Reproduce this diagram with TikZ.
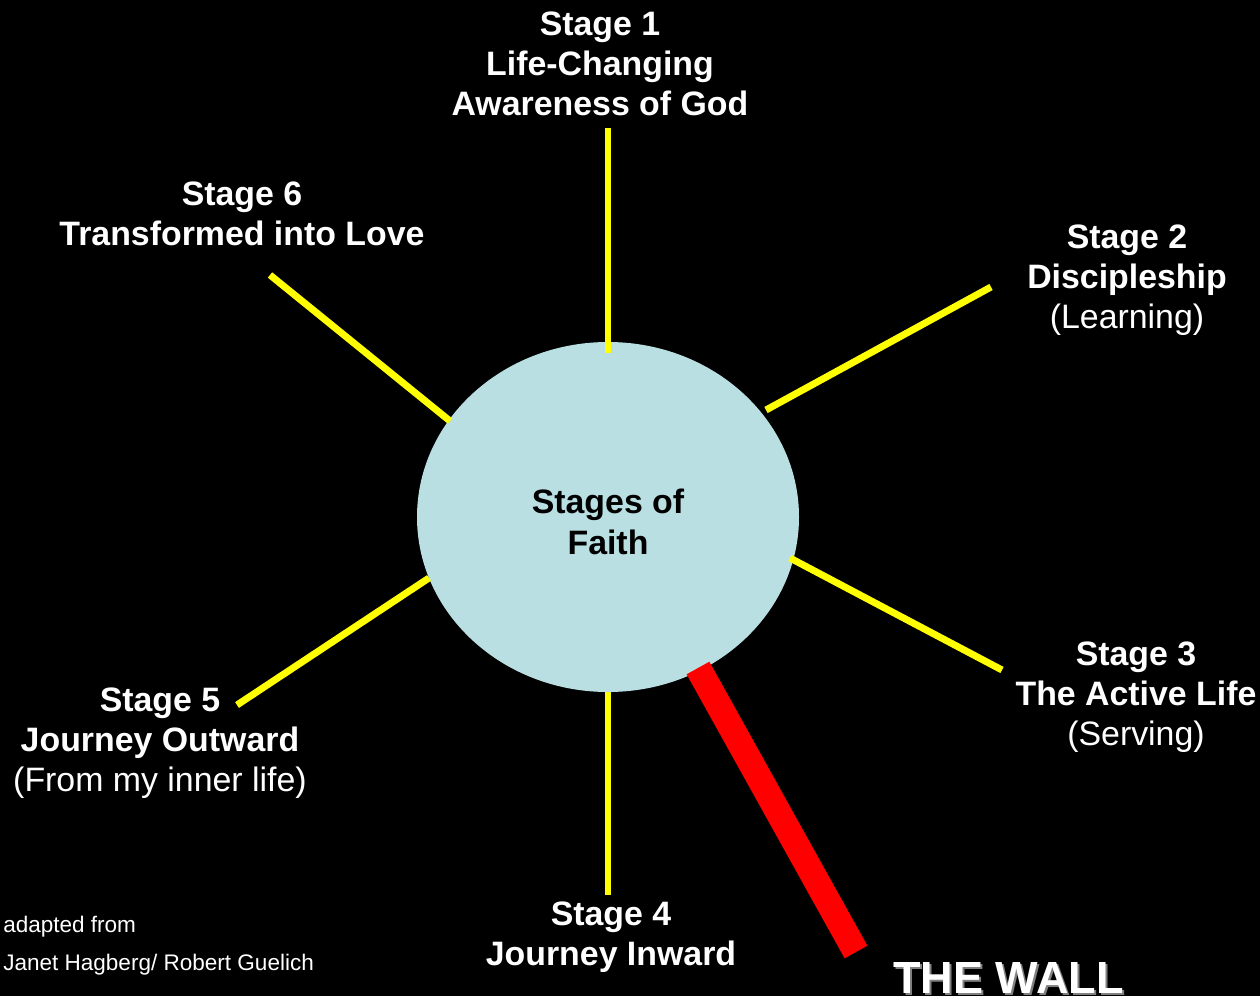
\documentclass[tikz,border=0pt]{standalone}
\usepackage{fontspec}
\setmainfont{Liberation Sans}
\usetikzlibrary{shapes.geometric}
\definecolor{hub}{HTML}{B9DFE2}
\definecolor{spoke}{HTML}{FFFF00}
\definecolor{wallred}{HTML}{FF0000}
\tikzset{
  lbl/.style={text=white, align=center, inner sep=0pt, font=\fontsize{25.4}{30.2}\selectfont\bfseries},
  small/.style={text=white, align=left, inner sep=0pt, anchor=west, font=\fontsize{16.9}{28.5}\selectfont},
  spokeline/.style={draw=spoke, line width=5.2pt},
  wall/.style={draw=wallred, line width=19.5pt},
}
\begin{document}
\begin{tikzpicture}[x=0.75pt,y=-0.75pt]
\fill[black] (0,0) rectangle (1260,996);
\useasboundingbox (0,0) rectangle (1260,996);

\node[ellipse, fill=hub, minimum width=286.5pt, minimum height=262.5pt, inner sep=0pt] (hubnode) at (608,517) {};
\node[lbl, text=black] (title) at (608,522) {Stages of\\Faith};

% spoke end points
\coordinate (s1a) at (608,353); \coordinate (s1b) at (608,128);
\coordinate (s2a) at (766,410); \coordinate (s2b) at (991,287);
\coordinate (s3a) at (790,558); \coordinate (s3b) at (1002,670);
\coordinate (s4a) at (608,692); \coordinate (s4b) at (608,895);
\coordinate (s5a) at (429,578); \coordinate (s5b) at (237,705);
\coordinate (s6a) at (450,421); \coordinate (s6b) at (270,275);
\coordinate (wa) at (698,668); \coordinate (wb) at (856,952);

\draw[spokeline] (s1a) -- (s1b);
\draw[spokeline] (s2a) -- (s2b);
\draw[spokeline] (s3a) -- (s3b);
\draw[spokeline] (s4a) -- (s4b);
\draw[spokeline] (s5a) -- (s5b);
\draw[spokeline] (s6a) -- (s6b);
\draw[wall] (wa) -- (wb);

\node[lbl] (st1) at (600,64) {Stage 1\\Life-Changing\\Awareness of God};
\node[lbl] (st2) at (1127,280) {Stage 2\\Discipleship\\\mdseries(Learning)};
\node[lbl] (st3) at (1136,697) {Stage 3\\The Active Life\\\mdseries(Serving)};
\node[lbl] (st4) at (611,937) {Stage 4\\Journey Inward};
\node[lbl] (st5) at (160,743) {Stage 5\\Journey Outward\\\mdseries(From my inner life)};
\node[lbl] (st6) at (242,214) {Stage 6\\Transformed into Love};

\node[small] (credit1) at (3,927) {adapted from};
\node[small] (credit2) at (3,965) {Janet Hagberg/ Robert Guelich};

\node[lbl, text=gray, anchor=west, font=\fontsize{33.8}{36}\selectfont\bfseries] (wallshadow) at (895,980) {THE WALL};
\node[lbl, anchor=west, font=\fontsize{33.8}{36}\selectfont\bfseries] (walltext) at (893,978) {THE WALL};
\end{tikzpicture}
\end{document}
